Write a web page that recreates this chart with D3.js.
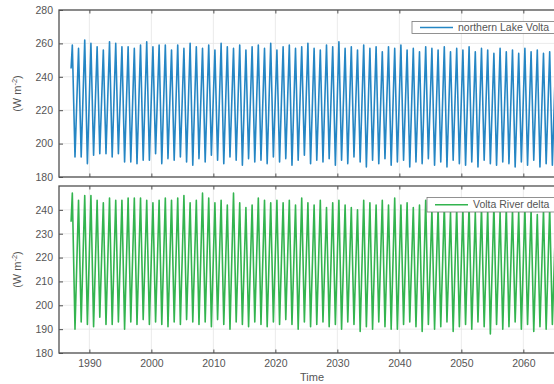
<!DOCTYPE html>
<html>
<head>
<meta charset="utf-8">
<script src="https://cdn.jsdelivr.net/npm/d3@7/dist/d3.min.js"></script>
<style>
  body { margin: 0; background: #fff; }
  svg { display: block; font-family: "Liberation Sans", Arial, sans-serif; }
</style>
</head>
<body>
<div id="chart"></div>
<script>
// first year of the series, one peak and one trough per year
const startYear = 1987;
const xTicks = [1990, 2000, 2010, 2020, 2030, 2040, 2050, 2060];

// northern Lake Volta: yearly maxima / minima (W m-2)
const lakePeak = [
  259, 257, 262, 260, 258, 256, 261, 260, 258, 258,
  257, 259, 261, 258, 259, 259, 256, 259, 257, 260,
  258, 257, 259, 256, 260, 258, 257, 259, 256, 258,
  259, 257, 260, 256, 258, 259, 257, 258, 260, 257,
  256, 259, 258, 261, 257, 258, 256, 259, 257, 258,
  255, 258, 257, 259, 256, 257, 255, 258, 257, 256,
  258, 255, 257, 256, 258, 255, 257, 256, 254, 257,
  255, 256, 254, 257, 255, 256, 254, 255, 256, 254
];
const lakeTrough = [
  192, 192, 188, 193, 194, 194, 192, 194, 189, 189,
  188, 190, 190, 194, 188, 191, 190, 192, 189, 187,
  191, 189, 193, 190, 188, 192, 190, 187, 191, 189,
  190, 188, 192, 189, 191, 187, 190, 193, 188, 190,
  189, 191, 187, 190, 188, 192, 189, 186, 190, 188,
  191, 187, 189, 190, 186, 189, 188, 191, 187, 189,
  186, 190, 188, 187, 189, 186, 190, 188, 187, 189,
  188, 186, 189, 187, 190, 186, 188, 187, 189, 186
];

// Volta River delta: yearly maxima / minima (W m-2)
const deltaPeak = [
  247, 244, 246, 246, 244, 243, 245, 244, 244, 245,
  245, 245, 244, 243, 244, 245, 244, 245, 246, 243,
  244, 247, 245, 243, 244, 242, 247, 243, 241, 242,
  245, 244, 243, 244, 243, 244, 242, 245, 243, 242,
  244, 241, 243, 244, 242, 241, 240, 244, 243, 242,
  244, 242, 245, 242, 243, 241, 242, 244, 240, 241,
  242, 239, 241, 240, 242, 239, 241, 240, 242, 239,
  241, 240, 239, 241, 240, 238, 240, 241, 239, 240
];
const deltaTrough = [
  190, 193, 192, 191, 195, 192, 192, 193, 190, 193,
  192, 194, 192, 193, 192, 191, 193, 192, 194, 193,
  192, 193, 191, 194, 192, 190, 193, 192, 191, 193,
  192, 191, 193, 192, 194, 192, 190, 193, 191, 192,
  193, 191, 192, 190, 193, 192, 189, 191, 190, 193,
  191, 190, 190, 192, 193, 191, 189, 192, 190, 191,
  193, 189, 191, 192, 190, 193, 191, 188, 192, 190,
  191, 193, 190, 192, 189, 191, 190, 192, 190, 191
];
const lakeStart = 245;
const deltaStart = 235;

const width = 554, height = 384;
const svg = d3.select('#chart').append('svg')
  .attr('width', width).attr('height', height);

const x = d3.scaleLinear().domain([1985.1, 2066.8]).range([59, 565.5]);

// turn peak/trough lists into points along the time axis
function toPoints(start, peaks, troughs) {
  const pts = [{ t: startYear + 0.05, v: start }];
  peaks.forEach((p, i) => {
    pts.push({ t: startYear + i + 0.25, v: p });
    pts.push({ t: startYear + i + 0.68, v: troughs[i] });
  });
  return pts;
}

const panels = [
  { top: 10, bottom: 177, domain: [180, 280], ticks: [180, 200, 220, 240, 260, 280],
    data: toPoints(lakeStart, lakePeak, lakeTrough), color: '#2586c4', label: 'northern Lake Volta',
    legend: { x: 412, y: 21.5, w: 150, h: 12 } },
  { top: 186, bottom: 353, domain: [180, 250], ticks: [180, 190, 200, 210, 220, 230, 240],
    data: toPoints(deltaStart, deltaPeak, deltaTrough), color: '#33b44f', label: 'Volta River delta',
    legend: { x: 427, y: 197.5, w: 140, h: 14.5 } }
];

const frame = '#505050';
const textCol = '#555';

panels.forEach((p, k) => {
  const y = d3.scaleLinear().domain(p.domain).range([p.bottom, p.top]);
  const g = svg.append('g');
  const clipId = 'clip' + k;
  svg.append('clipPath').attr('id', clipId).append('rect')
    .attr('x', x.range()[0]).attr('y', p.top)
    .attr('width', x.range()[1] - x.range()[0]).attr('height', p.bottom - p.top);

  // grid
  g.selectAll('.vg').data(xTicks).enter().append('line')
    .attr('x1', d => x(d)).attr('x2', d => x(d))
    .attr('y1', p.top).attr('y2', p.bottom)
    .attr('stroke', '#e6e6e6').attr('stroke-width', 0.8);
  g.selectAll('.hg').data(p.ticks).enter().append('line')
    .attr('x1', x.range()[0]).attr('x2', x.range()[1])
    .attr('y1', d => y(d)).attr('y2', d => y(d))
    .attr('stroke', '#e6e6e6').attr('stroke-width', 0.8);

  // series
  const line = d3.line().x(d => x(d.t)).y(d => y(d.v));
  g.append('path').datum(p.data)
    .attr('clip-path', `url(#${clipId})`)
    .attr('d', line)
    .attr('fill', 'none')
    .attr('stroke', p.color)
    .attr('stroke-width', 1.6)
    .attr('stroke-linejoin', 'round');

  // inward ticks
  const yAxis = d3.axisLeft(y).tickValues(p.ticks).tickSize(-4).tickPadding(6)
    .tickFormat(d3.format('d'));
  const ya = g.append('g').attr('transform', `translate(${x.range()[0]},0)`).call(yAxis);
  ya.select('.domain').remove();
  ya.selectAll('line').attr('stroke', frame);
  ya.selectAll('text').attr('fill', textCol).style('font-size', '10.5px');

  const xAxis = d3.axisBottom(x).tickValues(xTicks).tickSize(-3.5).tickFormat(d3.format('d'));
  const xa = g.append('g').attr('transform', `translate(0,${p.bottom})`).call(xAxis);
  xa.select('.domain').remove();
  xa.selectAll('line').attr('stroke', frame);
  if (k === 1) {
    xa.selectAll('text').attr('fill', textCol).style('font-size', '10.5px').attr('dy', '1em');
  } else {
    xa.selectAll('text').remove();
  }
  const xt = g.append('g').attr('transform', `translate(0,${p.top})`).call(d3.axisTop(x).tickValues(xTicks).tickSize(-3.5).tickFormat(''));
  xt.select('.domain').remove();
  xt.selectAll('line').attr('stroke', frame);

  // box
  g.append('rect')
    .attr('x', x.range()[0]).attr('y', p.top)
    .attr('width', x.range()[1] - x.range()[0]).attr('height', p.bottom - p.top)
    .attr('fill', 'none').attr('stroke', frame).attr('stroke-width', 1.3);

  // y label
  const yl = g.append('text')
    .attr('transform', `translate(21,${(p.top + p.bottom) / 2}) rotate(-90)`)
    .attr('text-anchor', 'middle')
    .attr('fill', textCol)
    .style('font-size', '11px');
  yl.append('tspan').text('(W m');
  yl.append('tspan').attr('dy', -4).style('font-size', '7.5px').text('-2');
  yl.append('tspan').attr('dy', 4).text(')');

  // legend
  const L = p.legend;
  const lg = g.append('g');
  lg.append('rect').attr('x', L.x).attr('y', L.y).attr('width', L.w).attr('height', L.h)
    .attr('fill', '#fff').attr('stroke', '#777').attr('stroke-width', 0.8);
  lg.append('line')
    .attr('x1', L.x + 8).attr('x2', L.x + 41)
    .attr('y1', L.y + L.h / 2).attr('y2', L.y + L.h / 2)
    .attr('stroke', p.color).attr('stroke-width', 1.3);
  lg.append('text')
    .attr('x', L.x + 46).attr('y', L.y + L.h / 2 + 3.7)
    .attr('fill', textCol)
    .style('font-size', '10.5px')
    .text(p.label);
});

svg.append('text')
  .attr('x', 312).attr('y', 381)
  .attr('text-anchor', 'middle')
  .attr('fill', textCol)
  .style('font-size', '11px')
  .text('Time');
</script>
</body>
</html>
